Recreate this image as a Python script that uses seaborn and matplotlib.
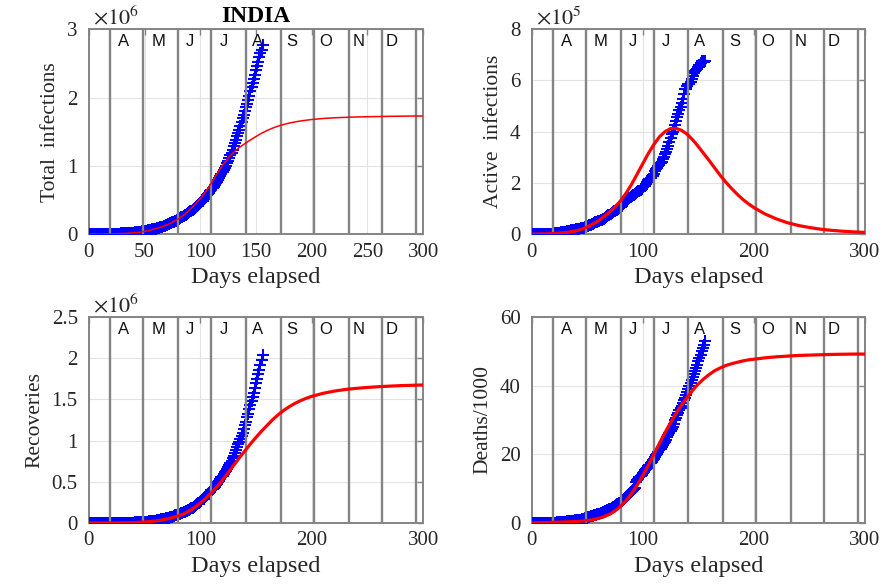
import numpy as np
import pandas as pd
import matplotlib
matplotlib.use("Agg")
import matplotlib.pyplot as plt
import seaborn as sns
from matplotlib.ticker import FuncFormatter

# ---------------- data ----------------
# cumulative confirmed cases, thousands, one value per day elapsed (0..156)
total_k = [
    0.11, 0.13, 0.15, 0.17, 0.20, 0.26, 0.33, 0.40, 0.50, 0.54,
    0.66, 0.73, 0.89, 0.99, 1.02, 1.25, 1.40, 2.00, 2.54, 3.07,
    3.58, 4.28, 4.79, 5.31, 5.92, 6.73, 7.60, 8.45, 9.21, 10.45,
    11.49, 12.32, 13.43, 14.35, 15.72, 17.62, 18.54, 20.08, 21.37, 23.08,
    24.53, 26.28, 27.89, 29.45, 31.32, 33.06, 34.86, 37.26, 39.70, 42.51,
    46.44, 49.40, 52.99, 56.35, 59.70, 62.81, 67.16, 70.77, 74.29, 78.06,
    82.00, 85.78, 90.65, 95.70, 100.33, 106.48, 112.03, 118.23, 124.79, 131.42,
    138.54, 144.95, 150.79, 158.09, 165.39, 173.49, 181.83, 190.61, 198.71, 207.62,
    216.92, 226.77, 236.66, 246.63, 256.61, 265.93, 276.58, 286.58, 297.54, 308.99,
    320.92, 332.42, 343.09, 354.07, 366.95, 380.53, 395.05, 410.46, 425.28, 440.22,
    456.18, 473.11, 490.40, 508.95, 528.86, 548.32, 566.84, 585.48, 604.64, 625.54,
    648.32, 673.17, 697.41, 719.67, 742.42, 767.30, 793.80, 820.92, 849.55, 878.25,
    906.75, 936.18, 968.88, 1003.83, 1038.72, 1077.78, 1118.04, 1155.34, 1193.08, 1238.64,
    1288.11, 1337.02, 1385.52, 1435.45, 1483.16, 1531.67, 1583.79, 1638.87, 1695.99, 1750.72,
    1803.70, 1855.75, 1908.25, 1964.54, 2027.08, 2088.61, 2153.01, 2215.07, 2268.68, 2329.64,
    2396.64, 2461.19, 2525.92, 2589.95, 2647.66, 2702.68, 2767.25,
]
# cumulative recoveries, thousands
recovered_k = [
    0.01, 0.01, 0.01, 0.02, 0.02, 0.02, 0.02, 0.02, 0.03, 0.04,
    0.04, 0.05, 0.07, 0.08, 0.09, 0.10, 0.12, 0.15, 0.17, 0.21,
    0.26, 0.30, 0.35, 0.41, 0.47, 0.56, 0.65, 0.77, 0.97, 1.19,
    1.36, 1.49, 1.77, 2.02, 2.23, 2.55, 3.27, 3.98, 4.37, 4.75,
    5.06, 5.80, 6.52, 7.14, 7.75, 8.34, 9.07, 10.02, 10.89, 11.76,
    12.85, 14.18, 15.27, 16.78, 17.89, 19.36, 20.92, 22.55, 24.39, 26.40,
    27.92, 30.26, 34.11, 36.82, 39.17, 42.30, 45.42, 48.53, 51.78, 54.44,
    57.72, 60.71, 64.28, 67.75, 71.11, 77.00, 84.00, 91.82, 95.75, 100.3,
    104.1, 108.5, 113.2, 119.3, 124.1, 129.2, 134.7, 141.0, 147.2, 154.3,
    162.4, 169.8, 180.3, 186.9, 194.3, 204.7, 213.8, 227.8, 237.2, 248.2,
    258.7, 271.7, 285.6, 295.9, 309.7, 321.7, 334.8, 347.9, 359.9, 379.9,
    394.2, 409.1, 424.4, 439.9, 456.8, 476.4, 495.5, 515.4, 534.6, 553.5,
    571.5, 592.0, 612.8, 635.8, 653.8, 677.4, 700.4, 728.0, 753.0, 782.6,
    817.2, 849.4, 885.6, 917.6, 952.7, 986.0, 1019.7, 1057.8, 1094.4, 1145.6,
    1186.2, 1230.5, 1282.2, 1328.3, 1378.1, 1427.0, 1480.9, 1534.3, 1583.5, 1639.6,
    1695.9, 1751.6, 1808.9, 1862.3, 1919.8, 1977.7, 2037.9,
]
# cumulative deaths, thousands
deaths_k = [
    0.002, 0.002, 0.003, 0.003, 0.004, 0.005, 0.005, 0.007, 0.010, 0.011,
    0.012, 0.016, 0.020, 0.024, 0.027, 0.032, 0.035, 0.058, 0.072, 0.086,
    0.099, 0.124, 0.136, 0.150, 0.178, 0.226, 0.246, 0.288, 0.331, 0.358,
    0.393, 0.422, 0.448, 0.486, 0.521, 0.559, 0.592, 0.645, 0.681, 0.721,
    0.780, 0.825, 0.881, 0.939, 1.008, 1.079, 1.154, 1.223, 1.323, 1.391,
    1.566, 1.693, 1.785, 1.889, 1.985, 2.101, 2.212, 2.294, 2.415, 2.551,
    2.649, 2.753, 2.871, 3.025, 3.156, 3.302, 3.434, 3.584, 3.726, 3.868,
    4.021, 4.167, 4.337, 4.531, 4.706, 4.971, 5.164, 5.394, 5.598, 5.815,
    6.075, 6.348, 6.642, 6.929, 7.200, 7.473, 7.745, 8.102, 8.498, 8.884,
    9.195, 9.520, 9.900, 10.07, 11.90, 12.57, 12.95, 13.25, 13.70, 14.01,
    14.48, 14.89, 15.30, 15.69, 16.10, 16.48, 16.89, 17.40, 17.83, 18.21,
    18.66, 19.27, 19.69, 20.16, 20.64, 21.13, 21.60, 22.12, 22.67, 23.17,
    23.73, 24.31, 24.92, 25.60, 26.27, 26.82, 27.50, 28.08, 28.73, 29.86,
    30.60, 31.36, 32.06, 32.77, 33.43, 34.19, 35.00, 35.75, 36.51, 37.36,
    38.14, 38.94, 39.80, 40.70, 41.59, 42.52, 43.38, 44.39, 45.26, 46.09,
    47.14, 48.04, 49.04, 49.98, 50.92, 51.80, 52.89,
]

# model curves (red), sampled on these days
model_days = [
    0, 5, 10, 15, 20, 25, 30, 35, 40, 45,
    50, 55, 60, 65, 70, 75, 80, 85, 90, 95,
    100, 105, 110, 115, 120, 125, 130, 135, 140, 145,
    150, 155, 160, 165, 170, 175, 180, 185, 190, 195,
    200, 210, 220, 230, 240, 250, 260, 270, 280, 290, 300,
]
model_total_m = [
    0.000, 0.001, 0.002, 0.003, 0.005, 0.007, 0.010, 0.014, 0.020, 0.028,
    0.040, 0.058, 0.080, 0.105, 0.135, 0.175, 0.222, 0.280, 0.345, 0.430,
    0.520, 0.625, 0.750, 0.885, 1.010, 1.115, 1.200, 1.270, 1.325, 1.380,
    1.430, 1.478, 1.518, 1.553, 1.583, 1.607, 1.627, 1.643, 1.657, 1.668,
    1.678, 1.693, 1.703, 1.710, 1.715, 1.719, 1.722, 1.725, 1.727, 1.729, 1.730,
]
model_active_k = [
    0, 0.5, 1, 1.5, 2.5, 4, 6, 9, 13, 19,
    28, 39, 52, 68, 86, 106, 130, 160, 195, 235,
    275, 315, 350, 380, 400, 412, 413, 405, 390, 368,
    342, 314, 286, 257, 228, 202, 178, 156, 136, 119,
    104, 79, 60, 45, 34, 26, 19.5, 15, 11.5, 9, 7,
]
model_recovered_m = [
    0, 0, 0, 0, 0, 0.001, 0.002, 0.003, 0.005, 0.008,
    0.012, 0.018, 0.025, 0.035, 0.048, 0.065, 0.085, 0.110, 0.145, 0.190,
    0.240, 0.300, 0.365, 0.440, 0.520, 0.610, 0.700, 0.790, 0.875, 0.960,
    1.040, 1.115, 1.185, 1.255, 1.315, 1.368, 1.413, 1.452, 1.485, 1.513,
    1.537, 1.573, 1.600, 1.620, 1.634, 1.645, 1.654, 1.661, 1.667, 1.671, 1.675,
]
model_deaths_k = [
    0, 0.05, 0.1, 0.15, 0.2, 0.25, 0.3, 0.35, 0.45, 0.55,
    0.7, 0.95, 1.3, 1.8, 2.5, 3.5, 4.8, 6.5, 8.6, 11.0,
    13.8, 16.8, 20.0, 23.2, 26.3, 29.2, 31.9, 34.4, 36.6, 38.7,
    40.5, 42.0, 43.3, 44.4, 45.2, 45.9, 46.4, 46.8, 47.2, 47.5,
    47.7, 48.1, 48.4, 48.6, 48.8, 48.9, 49.0, 49.1, 49.15, 49.2, 49.2,
]

month_start_days = [19, 49, 80, 110, 141, 172, 202, 233, 263, 294]
month_labels = ["A", "M", "J", "J", "A", "S", "O", "N", "D"]
month_label_days = [26, 56, 87, 117.5, 146, 177.5, 207, 236.5, 266.5]

# ---------------- derived series ----------------
tot = np.array(total_k)
rec = np.array(recovered_k)
dea = np.array(deaths_k)
days = np.arange(len(tot))
active_k = tot - rec - dea

# ---------------- style ----------------
sns.set_theme(style="white")
plt.rcParams["font.family"] = ["Liberation Serif", "DejaVu Serif"]
plt.rcParams["mathtext.fontset"] = "stix"
TXT = "#262626"
GRAY = "#848484"

fig = plt.figure(figsize=(8.89, 5.84), dpi=100)

panels = [
    dict(rect=[0.100, 0.599, 0.376, 0.351], y=tot / 1000.0, m=model_total_m,
         ylabel="Total  infections", ylim=(0, 3), yticks=[0, 1, 2, 3],
         xticks=[0, 50, 100, 150, 200, 250, 300], off=r"$\times10^{6}$", lw=1.1,
         title="INDIA"),
    dict(rect=[0.598, 0.599, 0.375, 0.351], y=active_k / 100.0,
         m=np.array(model_active_k) / 100.0,
         ylabel="Active  infections", ylim=(0, 8), yticks=[0, 2, 4, 6, 8],
         xticks=[0, 100, 200, 300], off=r"$\times10^{5}$", lw=2.3, title=None),
    dict(rect=[0.100, 0.1045, 0.376, 0.3527], y=rec / 1000.0, m=model_recovered_m,
         ylabel="Recoveries", ylim=(0, 2.5), yticks=[0, 0.5, 1, 1.5, 2, 2.5],
         xticks=[0, 100, 200, 300], off=r"$\times10^{6}$", lw=2.3, title=None),
    dict(rect=[0.598, 0.1045, 0.375, 0.3527], y=dea, m=model_deaths_k,
         ylabel="Deaths/1000", ylim=(0, 60), yticks=[0, 20, 40, 60],
         xticks=[0, 100, 200, 300], off=None, lw=2.3, title=None),
]

for p in panels:
    ax = fig.add_axes(p["rect"])
    ax.set_axisbelow(True)
    ax.grid(True, color="#e3e3e3", lw=0.8)
    sns.lineplot(x=days, y=p["y"], ax=ax, color="blue", marker="+",
                 linestyle="none", markersize=9, markeredgewidth=1.5,
                 markeredgecolor="blue", estimator=None, zorder=3)
    for d in month_start_days:
        ax.axvline(d, color=GRAY, lw=1.7, zorder=4)
    sns.lineplot(x=model_days, y=p["m"], ax=ax, color="red", lw=p["lw"],
                 estimator=None, zorder=5)
    for lab, d in zip(month_labels, month_label_days):
        ax.text(d, 0.94, lab, transform=ax.get_xaxis_transform(), ha="left",
                va="center", fontsize=12, family=["Liberation Sans", "DejaVu Sans"],
                color="#111111", zorder=6)
    ax.set_xlim(0, 300)
    ax.set_ylim(*p["ylim"])
    ax.set_xticks(p["xticks"])
    ax.set_yticks(p["yticks"])
    fmt = FuncFormatter(lambda v, pos: f"{v:g}")
    ax.xaxis.set_major_formatter(fmt)
    ax.yaxis.set_major_formatter(fmt)
    ax.tick_params(axis="both", direction="in", length=4, width=1, color=GRAY,
                   labelsize=15, labelcolor=TXT, top=True, right=True)
    ax.tick_params(axis="x", pad=6)
    ax.tick_params(axis="y", pad=8)
    for s in ax.spines.values():
        s.set_color(GRAY)
        s.set_linewidth(1.4)
        s.set_visible(True)
    ax.set_xlabel("Days elapsed", fontsize=17.5, color=TXT, labelpad=4)
    ax.set_ylabel(p["ylabel"], fontsize=15.5, color=TXT, labelpad=5)
    if p["off"]:
        ax.text(0.012, 1.0, p["off"], transform=ax.transAxes, ha="left",
                va="bottom", fontsize=16, color=TXT)
    if p["title"]:
        ax.set_title(p["title"], fontsize=17, fontweight="bold", color="black", pad=5)

fig.savefig("out.png", dpi=100)
